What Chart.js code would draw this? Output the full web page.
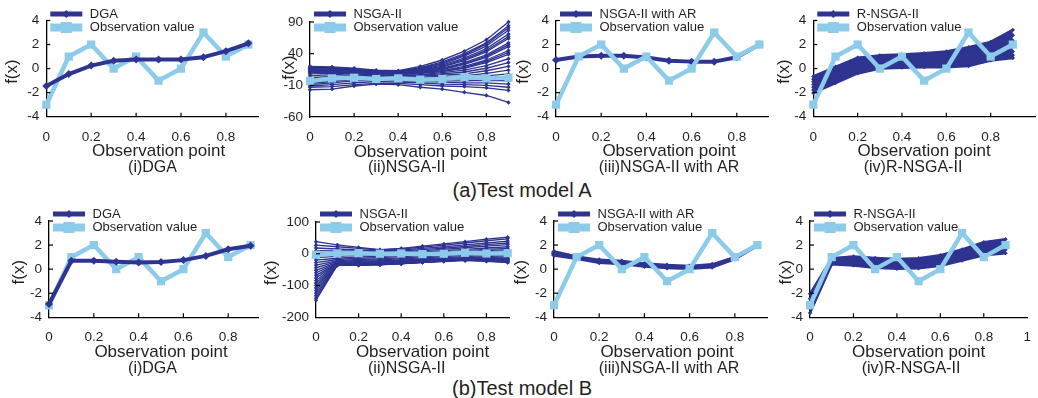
<!DOCTYPE html>
<html>
<head>
<meta charset="utf-8">
<script src="https://cdn.jsdelivr.net/npm/chart.js@4.4.1/dist/chart.umd.min.js"></script>
<style>
  html, body { margin: 0; padding: 0; background: #fff; }
  body { width: 1038px; height: 398px; position: relative; overflow: hidden; font-family: "Liberation Sans", Arial, sans-serif; }
  canvas { position: absolute; }
  .caption { position: absolute; font-size: 20px; line-height: 20px; color: #231f20; transform: translateX(-50%); white-space: nowrap; }
</style>
</head>
<body>
<div class="caption" style="left:522px; top:180px">(a)Test model A</div>
<div class="caption" style="left:522px; top:378px">(b)Test model B</div>
<script>
// observation points and measured values (same in every panel)
const xs = [0, 0.1, 0.2, 0.3, 0.4, 0.5, 0.6, 0.7, 0.8, 0.9];
const observation = [-3, 1, 2, 0, 1, -1, 0, 3, 1, 2];

// test model A
const dgaA = [-1.45, -0.45, 0.25, 0.65, 0.75, 0.75, 0.75, 0.95, 1.45, 2.1];
const nsgaArA = [0.72, 1.0, 1.07, 1.07, 0.93, 0.65, 0.58, 0.58, 0.95, 2.0];
const nsgaA = [
  [20, 19, 17, 14, 13, 20, 30, 44, 62, 90],
  [18, 18, 16, 13, 12, 18, 27, 40, 57, 84],
  [19, 18, 16, 13, 12, 17, 25, 38, 55, 81],
  [19, 17, 15, 12, 11, 16, 24, 36, 52, 77],
  [16, 16, 14, 12, 11, 15, 22, 33, 48, 71],
  [15, 15, 13, 11, 10, 14, 20, 31, 45, 67],
  [17, 15, 13, 11, 10, 13, 19, 29, 43, 64],
  [14, 14, 13, 11, 10, 12, 17, 26, 38, 57],
  [13, 13, 12, 10, 9, 11, 16, 24, 36, 54],
  [15, 13, 12, 10, 9, 11, 15, 23, 34, 51],
  [12, 12, 11, 9, 8, 10, 13, 20, 30, 45],
  [11, 11, 10, 9, 8, 9, 12, 18, 28, 42],
  [10, 10, 10, 8, 7, 9, 12, 17, 26, 39],
  [8, 9, 9, 7, 6, 7, 10, 14, 21, 32],
  [5, 7, 8, 6, 5, 6, 8, 11, 17, 26],
  [2, 4, 6, 5, 4, 5, 6, 8, 13, 20],
  [0, 2, 4, 4, 3, 3, 4, 5, 9, 14],
  [-3, 0, 3, 3, 2, 2, 2, 3, 5, 8],
  [-5, -2, 1, 1, 1, 0, 0, 0, 2, 3],
  [-7, -4, -1, 0, -1, -2, -3, -3, -2, -3],
  [-9, -6, -3, -2, -3, -4, -5, -6, -6, -8],
  [-11, -9, -6, -4, -5, -6, -8, -9, -10, -13],
  [-13, -12, -9, -7, -7, -9, -11, -12, -14, -18],
  [-17, -16, -11, -8, -9, -13, -16, -21, -26, -37]
];
const rnsgaA = [
  [-0.65, 0.15, 0.9, 1.1, 1.18, 1.28, 1.42, 1.78, 2.22, 3.22],
  [-0.88, -0.08, 0.7, 0.93, 1.0, 1.1, 1.22, 1.51, 1.91, 2.77],
  [-1.1, -0.3, 0.49, 0.76, 0.83, 0.91, 1.0, 1.25, 1.62, 2.32],
  [-1.33, -0.53, 0.28, 0.58, 0.65, 0.72, 0.78, 0.99, 1.32, 1.87],
  [-1.56, -0.76, 0.05, 0.38, 0.45, 0.51, 0.55, 0.72, 1.02, 1.42],
  [-1.79, -0.98, -0.17, 0.19, 0.27, 0.32, 0.33, 0.47, 0.84, 1.12],
  [-2.02, -1.2, -0.4, 0.0, 0.08, 0.12, 0.12, 0.22, 0.68, 0.88]
];

// test model B
const dgaB = [-2.9, 0.7, 0.7, 0.62, 0.55, 0.6, 0.75, 1.1, 1.65, 1.95];
const nsgaArB = [
  [1.42, 1.02, 0.73, 0.63, 0.43, 0.3, 0.23, 0.36, 0.96, 2.03],
  [1.3, 0.96, 0.65, 0.55, 0.35, 0.22, 0.15, 0.28, 0.92, 2.0],
  [1.18, 0.9, 0.57, 0.47, 0.27, 0.14, 0.08, 0.2, 0.88, 1.96]
];
const nsgaB = [
  [38, 28, 20, 13, 17, 24, 31, 38, 46, 52],
  [27, 22, 17, 12, 15, 21, 27, 34, 41, 47],
  [18, 15, 12, 9, 12, 17, 22, 28, 34, 40],
  [10, 9, 8, 6, 9, 13, 18, 23, 29, 34],
  [3, 4, 4, 3, 6, 10, 14, 19, 24, 29],
  [-5, -2, 0, 0, 3, 6, 10, 14, 18, 22],
  [-12, -8, -5, -4, -1, 2, 6, 10, 14, 17],
  [-20, -14, -10, -8, -5, -2, 2, 6, 10, 13],
  [-28, -18, -14, -12, -9, -6, -2, 2, 6, 9],
  [-36, -22, -18, -16, -13, -10, -6, -2, 2, 5],
  [-44, -25, -21, -19, -16, -13, -9, -5, -2, 1],
  [-52, -27, -24, -22, -19, -16, -12, -9, -6, -3],
  [-60, -29, -26, -24, -21, -18, -15, -12, -9, -6],
  [-68, -30, -28, -26, -23, -20, -17, -14, -12, -10],
  [-76, -31, -30, -28, -25, -22, -19, -16, -14, -13],
  [-84, -32, -31, -29, -26, -23, -20, -18, -17, -16],
  [-92, -33, -32, -30, -27, -24, -21, -19, -19, -19],
  [-100, -34, -33, -31, -28, -25, -22, -20, -21, -22],
  [-108, -34, -34, -32, -29, -26, -23, -21, -23, -25],
  [-116, -35, -35, -33, -30, -27, -24, -21, -24, -28],
  [-124, -35, -35, -33, -31, -27, -24, -20, -22, -26],
  [-132, -36, -35, -34, -31, -27, -23, -19, -20, -22],
  [-140, -36, -36, -34, -31, -26, -22, -18, -18, -19],
  [-146, -36, -36, -35, -32, -27, -22, -17, -17, -16]
];
const rnsgaB = [
  [-2.05, 0.9, 1.05, 0.93, 0.85, 0.91, 1.15, 1.63, 2.23, 2.48],
  [-2.45, 0.77, 0.87, 0.73, 0.64, 0.7, 0.94, 1.4, 1.96, 2.19],
  [-2.85, 0.65, 0.68, 0.52, 0.44, 0.49, 0.72, 1.17, 1.69, 1.9],
  [-3.25, 0.52, 0.5, 0.31, 0.23, 0.28, 0.5, 0.94, 1.42, 1.61],
  [-3.65, 0.4, 0.31, 0.11, 0.03, 0.07, 0.29, 0.71, 1.15, 1.33]
];

const NAVY = '#2e3490';
const SKY = '#8ccbea';
const INK = '#231f20';
const FONT = '"Liberation Sans", Arial, Helvetica, sans-serif';

Chart.defaults.font.family = FONT;
Chart.defaults.color = INK;

const panels = [
  { row: 0, ax: 46.3, px: 224.5, xMax: 0.945, yTop: 20.5, yBot: 116.7, yMin: -4, yMax: 4, yStep: 2, titleX: 12.5, subX: 152.5,
    label: 'DGA', sub: '(i)DGA', lines: [dgaA], kind: 'thick', obsTop: false },
  { row: 0, ax: 310, px: 220.5, xMax: 0.91, yTop: 22, yBot: 117, yMin: -60, yMax: 90, yStep: 50, titleX: 289, subX: 406.7,
    label: 'NSGA-II', sub: '(ii)NSGA-II', lines: nsgaA, kind: 'thin', obsTop: true, titleLift: 5 },
  { row: 0, ax: 556, px: 226, xMax: 0.94, yTop: 20.5, yBot: 116.7, yMin: -4, yMax: 4, yStep: 2, titleX: 523, subX: 669,
    label: 'NSGA-II with AR', sub: '(iii)NSGA-II with AR', lines: [nsgaArA], kind: 'thick', obsTop: true },
  { row: 0, ax: 813.3, px: 225, xMax: 1.0, yTop: 20.5, yBot: 116.7, yMin: -4, yMax: 4, yStep: 2, titleX: 784, subX: 913,
    label: 'R-NSGA-II', sub: '(iv)R-NSGA-II', lines: rnsgaA, kind: 'band', obsTop: true, hideOne: true },
  { row: 1, ax: 49, px: 224, xMax: 0.935, yTop: 221, yBot: 317.3, yMin: -4, yMax: 4, yStep: 2, titleX: 19, subX: 152.5,
    label: 'DGA', sub: '(i)DGA', lines: [dgaB], kind: 'thick', obsTop: false },
  { row: 1, ax: 316, px: 213, xMax: 0.91, yTop: 222, yBot: 317.3, yMin: -200, yMax: 100, yStep: 50, titleX: 271, subX: 406.7,
    label: 'NSGA-II', sub: '(ii)NSGA-II', lines: nsgaB, kind: 'thin', obsTop: true },
  { row: 1, ax: 554, px: 226, xMax: 0.945, yTop: 221, yBot: 317.3, yMin: -4, yMax: 4, yStep: 2, titleX: 521, subX: 669,
    label: 'NSGA-II with AR', sub: '(iii)NSGA-II with AR', lines: nsgaArB, kind: 'medium', obsTop: true },
  { row: 1, ax: 810, px: 225, xMax: 1.0, yTop: 221, yBot: 317.3, yMin: -4, yMax: 4, yStep: 2, titleX: 786, subX: 911,
    label: 'R-NSGA-II', sub: '(iv)R-NSGA-II', lines: rnsgaB, kind: 'band', obsTop: true, hideOne: false }
];

const toPoints = vals => xs.map((x, i) => ({ x: x, y: vals[i] }));

// ticks pointing inwards, legend, axis titles and panel captions
const panelDecor = {
  id: 'panelDecor',
  afterDraw(chart, args, o) {
    const { ctx, scales: { x, y } } = chart;
    ctx.save();
    ctx.strokeStyle = '#000';
    ctx.lineWidth = 1.2;
    x.ticks.forEach(t => {
      if (t.value <= 0 || t.value >= x.max - 1e-6) return;
      const p = x.getPixelForValue(t.value);
      ctx.beginPath(); ctx.moveTo(p, y.bottom); ctx.lineTo(p, y.bottom - 4); ctx.stroke();
    });
    y.ticks.forEach(t => {
      if (t.value <= y.min) return;
      const p = y.getPixelForValue(t.value);
      ctx.beginPath(); ctx.moveTo(x.left, p); ctx.lineTo(x.left + 4, p); ctx.stroke();
    });

    // legend
    const lx = x.left;
    o.items.forEach((it, i) => {
      const ly = o.rows[i];
      ctx.strokeStyle = it.color;
      ctx.lineWidth = it.lw;
      ctx.beginPath(); ctx.moveTo(lx + 4, ly); ctx.lineTo(lx + 36, ly); ctx.stroke();
      ctx.fillStyle = it.color;
      const cx = lx + 20;
      if (it.marker === 'diamond') {
        ctx.beginPath();
        ctx.moveTo(cx - it.ms, ly); ctx.lineTo(cx, ly - it.ms); ctx.lineTo(cx + it.ms, ly); ctx.lineTo(cx, ly + it.ms);
        ctx.closePath(); ctx.fill();
      } else {
        ctx.fillRect(cx - it.ms / 2, ly - it.ms / 2, it.ms, it.ms);
      }
      ctx.fillStyle = INK;
      ctx.font = '13px ' + FONT;
      ctx.textAlign = 'left';
      ctx.textBaseline = 'middle';
      ctx.fillText(it.label, lx + 43.5, ly);
    });

    // axis titles
    ctx.fillStyle = INK;
    ctx.textAlign = 'center';
    ctx.textBaseline = 'middle';
    ctx.font = '17px ' + FONT;
    ctx.fillText('Observation point', x.getPixelForValue(0.5), y.bottom + 35);
    ctx.font = '16px ' + FONT;
    ctx.fillText(o.sub, o.subX, y.bottom + 51);
    ctx.save();
    ctx.translate(o.titleX, (y.top + y.bottom) / 2 + 3 - o.titleLift);
    ctx.rotate(-Math.PI / 2);
    ctx.font = '17px ' + FONT;
    ctx.fillText('f(x)', 0, 0);
    ctx.restore();
    ctx.restore();
  }
};

panels.forEach(p => {
  const ct = p.row === 0 ? 0 : 200;
  const cl = Math.floor(p.titleX - 12);
  const right = p.ax + p.px * p.xMax;
  const cw = Math.ceil(right - cl + 8);
  const ch = Math.ceil(p.yBot - ct + 62);
  const hx = 30;

  const canvas = document.createElement('canvas');
  canvas.width = cw;
  canvas.height = ch;
  canvas.style.left = cl + 'px';
  canvas.style.top = ct + 'px';
  document.body.appendChild(canvas);

  const datasets = [];
  datasets.push({
    data: toPoints(observation),
    borderColor: SKY, backgroundColor: SKY, borderWidth: 4.5,
    pointStyle: 'rect', pointRadius: 5.8, pointBorderWidth: 0,
    borderJoinStyle: 'round', clip: false, order: p.obsTop ? 0 : 2
  });

  const styles = {
    thick: { w: 4, r: 4 },
    medium: { w: 3.5, r: 3 },
    thin: { w: 1.35, r: 2.2 },
    band: { w: 2.5, r: 2.2 }
  };
  const st = styles[p.kind];
  p.lines.forEach((vals, i) => {
    const ds = {
      data: toPoints(vals),
      borderColor: NAVY, backgroundColor: NAVY, borderWidth: st.w,
      pointStyle: 'rectRot', pointRadius: st.r, pointBorderWidth: 0,
      borderJoinStyle: 'round', clip: false, order: 1, fill: false
    };
    if (p.kind === 'band' && i === p.lines.length - 1) ds.fill = 1;
    datasets.push(ds);
  });

  new Chart(canvas, {
    type: 'line',
    data: { datasets: datasets },
    options: {
      responsive: false,
      animation: false,
      events: [],
      layout: {
        autoPadding: false,
        padding: { left: 0, top: p.yTop - ct, right: cw - (right - cl), bottom: ch - (p.yBot - ct) - hx }
      },
      scales: {
        x: {
          type: 'linear', min: 0, max: p.xMax, bounds: 'data',
          afterFit: s => { s.height = hx; },
          grid: { display: false, drawTicks: false },
          border: { display: true, color: '#000', width: 1.3 },
          ticks: {
            stepSize: 0.2, includeBounds: false, padding: 12, maxRotation: 0, autoSkip: false,
            font: { size: 13.5 }, color: INK,
            callback: v => (v > 0.95 && p.hideOne) ? '' : String(Math.round(v * 10) / 10)
          }
        },
        y: {
          type: 'linear', min: p.yMin, max: p.yMax,
          afterFit: s => { s.width = p.ax - cl; },
          grid: { display: false, drawTicks: false },
          border: { display: true, color: '#000', width: 1.3 },
          ticks: { stepSize: p.yStep, padding: 7, font: { size: 13.5 }, color: INK, callback: v => String(v) }
        }
      },
      plugins: {
        legend: { display: false },
        tooltip: { enabled: false },
        panelDecor: {
          rows: [14, 27.5],
          titleX: p.titleX - cl,
          titleLift: p.titleLift || 0,
          subX: p.subX - cl,
          sub: p.sub,
          items: [
            { label: p.label, color: NAVY, lw: 5, marker: 'diamond', ms: 4 },
            { label: 'Observation value', color: SKY, lw: 8, marker: 'square', ms: 11 }
          ]
        }
      }
    },
    plugins: [panelDecor]
  });
});
</script>
</body>
</html>
